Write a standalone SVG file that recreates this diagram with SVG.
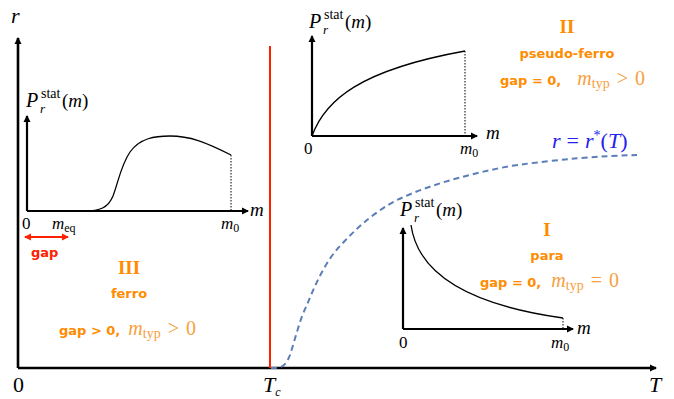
<svg xmlns="http://www.w3.org/2000/svg" width="674" height="399" viewBox="0 0 674 399">
<style>
.ax{stroke:#000;stroke-width:2.2;fill:none}
.ax2{stroke:#000;stroke-width:2.6;fill:none}
.cv{stroke:#000;stroke-width:1.3;fill:none}
.dot{stroke:#000;stroke-width:1;stroke-dasharray:1.5 1.5;fill:none}
.m{font-family:"Liberation Serif","DejaVu Serif",serif;font-size:17px;fill:#000}
.big{font-size:22px}
.mid{font-size:19px}
.mi{font-style:italic}
.sub{font-size:12px}
.pP{font-size:20px;font-style:italic}
.pr{font-size:13px;font-style:italic}
.ps{font-size:14px}
.pm{font-size:19px}
.or{font-family:"DejaVu Sans","Noto Sans",sans-serif;font-weight:bold;font-size:13px;fill:#FF8C00}
.orm{font-family:"Liberation Serif","DejaVu Serif",serif;font-size:20px;fill:#F7A040}
.orms{font-size:14px}
.rom{font-family:"Liberation Serif","DejaVu Serif",serif;font-weight:bold;font-size:19px;fill:#FF8C00}
.blue{font-family:"Liberation Serif","DejaVu Serif",serif;font-size:22px;fill:#2222EE}
</style>
<defs>
<marker id="ah" markerWidth="8" markerHeight="8" refX="6" refY="4" orient="auto" markerUnits="userSpaceOnUse"><path d="M0,0.5 L7,4 L0,7.5 Z" fill="#000"/></marker>
<marker id="rh" markerWidth="8" markerHeight="8" refX="6" refY="4" orient="auto-start-reverse" markerUnits="userSpaceOnUse"><path d="M0,0.5 L7,4 L0,7.5 Z" fill="#FF2000"/></marker>
</defs>
<rect width="674" height="399" fill="#fff"/>

<g id="main-axes">
<path class="ax2" d="M18,368 V38" marker-end="url(#ah)"/>
<path class="ax2" d="M18,368 H656" marker-end="url(#ah)"/>
<text class="m mi big" x="11" y="23">r</text>
<text class="m big" x="13" y="392">0</text>
<text class="m big" x="263" y="392"><tspan class="mi">T</tspan><tspan class="mi sub" dy="4">c</tspan></text>
<text class="m mi big" x="649" y="392">T</text>
</g>

<g id="connectors">
<path d="M270,46 V368" stroke="#FF2000" stroke-width="2" fill="none"/>
<path d="M271,368 C280,368 285,368 290,355 C295,340 300,318 307,305 C315,285 325,262 340,246 C355,230 370,215 395,201 C430,184 470,174 510,166 C560,159 600,156 637,155" stroke="#5B7DB8" stroke-width="2" stroke-dasharray="6 4" fill="none"/>
<text class="blue" x="552" y="148"><tspan font-style="italic">r</tspan><tspan dx="6">=</tspan><tspan dx="6" font-style="italic">r</tspan><tspan font-size="14" dy="-8">*</tspan><tspan dy="8">(</tspan><tspan font-style="italic">T</tspan>)</text>
</g>

<g id="inset-ferro">
<path class="ax" d="M27,211 V116" marker-end="url(#ah)"/>
<path class="ax" d="M27,211 H248" marker-end="url(#ah)"/>
<path class="cv" d="M84,211 C100,211 108,208 113,196 C118,183 121,165 130,152 C140,138 155,136 170,136 C190,136 205,142 231,155"/>
<path class="dot" d="M231,155 V211"/>
<text class="m pP" x="26" y="107">P</text>
<text class="m pr" x="40" y="113">r</text>
<text class="m ps" x="41" y="98">stat</text>
<text class="m pm" x="62" y="107">(<tspan class="mi">m</tspan>)</text>
<text class="m mi mid" x="250" y="216">m</text>
<text class="m" x="22" y="229">0</text>
<text class="m" x="52" y="229"><tspan class="mi">m</tspan><tspan class="sub" dy="3">eq</tspan></text>
<text class="m" x="221" y="229"><tspan class="mi">m</tspan><tspan class="sub" dy="3">0</tspan></text>
<path d="M25,237 H68" stroke="#FF2000" stroke-width="2" marker-start="url(#rh)" marker-end="url(#rh)"/>
<text x="31" y="257" font-family="DejaVu Sans,sans-serif" font-weight="bold" font-size="13" fill="#FF2000">gap</text>
</g>

<g id="region-III">
<text class="rom" x="129" y="274" text-anchor="middle">III</text>
<text class="or" x="129" y="298" text-anchor="middle">ferro</text>
<text x="59" y="335"><tspan class="or">gap &gt; 0,</tspan><tspan class="orm" dx="8"><tspan font-style="italic">m</tspan><tspan class="orms" dy="3">typ</tspan><tspan dy="-3" dx="7">&gt;</tspan><tspan dx="7">0</tspan></tspan></text>
</g>

<g id="inset-pseudo">
<path class="ax" d="M312,136 V36" marker-end="url(#ah)"/>
<path class="ax" d="M312,136 H477" marker-end="url(#ah)"/>
<path class="cv" d="M312,136 C325,100 360,70 465,51"/>
<path class="dot" d="M465,51 V136"/>
<text class="m pP" x="309" y="28">P</text>
<text class="m pr" x="323" y="34">r</text>
<text class="m ps" x="324" y="19">stat</text>
<text class="m pm" x="345" y="28">(<tspan class="mi">m</tspan>)</text>
<text class="m mi mid" x="486" y="139">m</text>
<text class="m" x="304" y="154">0</text>
<text class="m" x="460" y="154"><tspan class="mi">m</tspan><tspan class="sub" dy="3">0</tspan></text>
</g>

<g id="region-II">
<text class="rom" x="567" y="33" text-anchor="middle">II</text>
<text class="or" x="567" y="58" text-anchor="middle">pseudo-ferro</text>
<text x="500" y="85"><tspan class="or">gap = 0,</tspan><tspan class="orm" dx="16"><tspan font-style="italic">m</tspan><tspan class="orms" dy="3">typ</tspan><tspan dy="-3" dx="7">&gt;</tspan><tspan dx="7">0</tspan></tspan></text>
</g>

<g id="inset-para">
<path class="ax" d="M403,329 V228" marker-end="url(#ah)"/>
<path class="ax" d="M403,329 H573" marker-end="url(#ah)"/>
<path class="cv" d="M411,225 C418,275 470,305 563,318"/>
<path class="dot" d="M563,318 V329"/>
<text class="m pP" x="400" y="216">P</text>
<text class="m pr" x="414" y="222">r</text>
<text class="m ps" x="415" y="207">stat</text>
<text class="m pm" x="436" y="216">(<tspan class="mi">m</tspan>)</text>
<text class="m mi mid" x="577" y="334">m</text>
<text class="m" x="399" y="348">0</text>
<text class="m" x="551" y="348"><tspan class="mi">m</tspan><tspan class="sub" dy="3">0</tspan></text>
</g>

<g id="region-I">
<text class="rom" x="547" y="236" text-anchor="middle">I</text>
<text class="or" x="547" y="260" text-anchor="middle">para</text>
<text x="480" y="287"><tspan class="or">gap = 0,</tspan><tspan class="orm" dx="10"><tspan font-style="italic">m</tspan><tspan class="orms" dy="3">typ</tspan><tspan dy="-3" dx="7">=</tspan><tspan dx="7">0</tspan></tspan></text>
</g>
</svg>
